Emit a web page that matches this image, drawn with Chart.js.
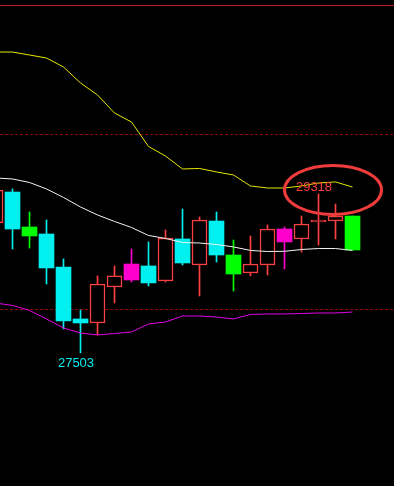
<!DOCTYPE html>
<html>
<head>
<meta charset="utf-8">
<script src="https://cdn.jsdelivr.net/npm/chart.js@4.4.0/dist/chart.umd.min.js"></script>
<style>
  html, body { margin: 0; padding: 0; background: #000; overflow: hidden; }
  canvas { display: block; }
</style>
</head>
<body>
<canvas id="kline" width="394" height="486"></canvas>
<script>
// bar index (0 is the half-hidden candle at the left edge)
const days = [0, 1, 2, 3, 4, 5, 6, 7, 8, 9, 10, 11, 12, 13, 14, 15, 16, 17, 18, 19, 20, 21];

const open  = [28987, 29340, 28941, 28861, 28484, 27891, 27845, 28256, 28336, 28496, 28324,
               28804, 28507, 29009, 28621, 28416, 28507, 28770, 28804, 28998, 29009, 29066];
const high  = [29397, 29375, 29112, 29021, 28576, 27993, 28382, 28496, 28690, 28770, 28907,
               29146, 29055, 29112, 28792, 28838, 28964, 28941, 29066, 29318, 29203, 29066];
const low   = [28952, 28690, 28701, 28290, 27777, 27503, 27708, 28073, 28313, 28267, 28313,
               28507, 28153, 28541, 28210, 28382, 28393, 28461, 28655, 28735, 28804, 28678];
const close = [29363, 28918, 28838, 28473, 27868, 27845, 28290, 28382, 28518, 28302, 28815,
               28530, 29021, 28621, 28404, 28518, 28918, 28918, 28975, 29021, 29066, 28678];
// signal bars (drawn filled green / magenta)
const flagged = [0, 0, 1, 0, 0, 0, 0, 0, 1, 0, 0, 0, 0, 0, 1, 0, 0, 1, 0, 0, 0, 1];

// bollinger bands
const upper  = [30938, 30938, 30904, 30870, 30767, 30585, 30448, 30242, 30139, 29860, 29751,
                29603, 29609, 29569, 29534, 29409, 29386, 29386, 29409, 29443, 29455, 29397];
const middle = [29500, 29489, 29449, 29375, 29278, 29169, 29078, 29004, 28935, 28844, 28810,
                28764, 28758, 28741, 28713, 28673, 28661, 28663, 28684, 28695, 28695, 28673];
const lower  = [28073, 28045, 27988, 27891, 27788, 27731, 27708, 27725, 27742, 27834, 27856,
                27925, 27925, 27913, 27891, 27942, 27948, 27948, 27953, 27959, 27959, 27970];

const gridLevels = [28000, 30000];
// high / low marks are taken over the last 20 bars
const markFrom = 2;

const RED = "#ff4040";
const CYAN = "#00f0f0";
const GREEN = "#00ff00";
const MAGENTA = "#ff00cc";

const isUp = (i) => close[i] >= open[i];
const candleColor = (i) => {
  if (flagged[i]) return isUp(i) ? MAGENTA : GREEN;
  return isUp(i) ? RED : CYAN;
};
const hollow = (i) => !flagged[i] && isUp(i);

const xy = (arr) => days.map((d, i) => ({ x: d, y: arr[i] }));

const backdrop = {
  id: "backdrop",
  beforeDatasetsDraw(chart) {
    const { ctx, chartArea, scales } = chart;
    ctx.save();
    // pane border
    ctx.strokeStyle = "#c01818";
    ctx.lineWidth = 1;
    ctx.beginPath();
    ctx.moveTo(chartArea.left, chartArea.top + 5.5);
    ctx.lineTo(chartArea.right, chartArea.top + 5.5);
    ctx.stroke();
    // dashed price levels
    ctx.strokeStyle = "#8c0a0a";
    ctx.setLineDash([3, 2]);
    gridLevels.forEach((v) => {
      const y = Math.round(scales.y.getPixelForValue(v)) + 0.5;
      ctx.beginPath();
      ctx.moveTo(chartArea.left, y);
      ctx.lineTo(chartArea.right, y);
      ctx.stroke();
    });
    ctx.restore();
  }
};

const extremes = {
  id: "extremes",
  afterDatasetsDraw(chart) {
    const { ctx, scales } = chart;
    const seen = days.slice(markFrom);
    let hi = seen[0], lo = seen[0];
    seen.forEach((d) => {
      if (high[d] > high[hi]) hi = d;
      if (low[d] < low[lo]) lo = d;
    });

    ctx.save();
    ctx.font = "13px 'Liberation Sans', Arial, sans-serif";
    ctx.textAlign = "center";
    ctx.textBaseline = "alphabetic";

    const hx = scales.x.getPixelForValue(hi);
    const hy = scales.y.getPixelForValue(high[hi]);
    ctx.fillStyle = RED;
    ctx.fillText(String(high[hi]), hx - 4.5, hy - 3);

    const lx = scales.x.getPixelForValue(lo);
    const ly = scales.y.getPixelForValue(low[lo]);
    ctx.fillStyle = CYAN;
    ctx.fillText(String(low[lo]), lx - 4.5, ly + 14.5);

    // circled high
    ctx.strokeStyle = "#f03c3c";
    ctx.lineWidth = 3;
    ctx.beginPath();
    ctx.ellipse(hx + 14.5, hy - 4, 48.5, 24.5, 0, 0, Math.PI * 2);
    ctx.stroke();
    ctx.restore();
  }
};

new Chart(document.getElementById("kline").getContext("2d"), {
  type: "bar",
  data: {
    datasets: [
      {
        type: "line",
        label: "UPPER",
        data: xy(upper),
        borderColor: "#e6e600",
        borderWidth: 1,
        pointRadius: 0,
        tension: 0,
        order: 0
      },
      {
        type: "line",
        label: "MID",
        data: xy(middle),
        borderColor: "#f4f4f4",
        borderWidth: 1,
        pointRadius: 0,
        tension: 0,
        order: 0
      },
      {
        type: "line",
        label: "LOWER",
        data: xy(lower),
        borderColor: "#e600e6",
        borderWidth: 1,
        pointRadius: 0,
        tension: 0,
        order: 0
      },
      {
        label: "body",
        data: days.map((d, i) => ({ x: d, y: [open[i], close[i]] })),
        backgroundColor: days.map((d, i) => (hollow(i) ? "#000000" : candleColor(i))),
        borderColor: days.map((d, i) => candleColor(i)),
        borderWidth: days.map((d, i) => (hollow(i) ? 1.5 : 0)),
        borderSkipped: false,
        barThickness: 15,
        grouped: false,
        order: 1
      },
      {
        label: "wick",
        data: days.map((d, i) => ({ x: d, y: [low[i], high[i]] })),
        backgroundColor: days.map((d, i) => candleColor(i)),
        borderWidth: 0,
        barThickness: 1,
        grouped: false,
        order: 2
      }
    ]
  },
  options: {
    responsive: false,
    devicePixelRatio: 1,
    animation: false,
    layout: { padding: 0 },
    plugins: {
      legend: { display: false },
      tooltip: { enabled: false }
    },
    scales: {
      x: {
        type: "linear",
        display: false,
        offset: false,
        min: 4.5 / 17,
        max: 4.5 / 17 + 394 / 17
      },
      y: {
        display: false,
        min: 25984,
        max: 31532
      }
    }
  },
  plugins: [backdrop, extremes]
});
</script>
</body>
</html>
